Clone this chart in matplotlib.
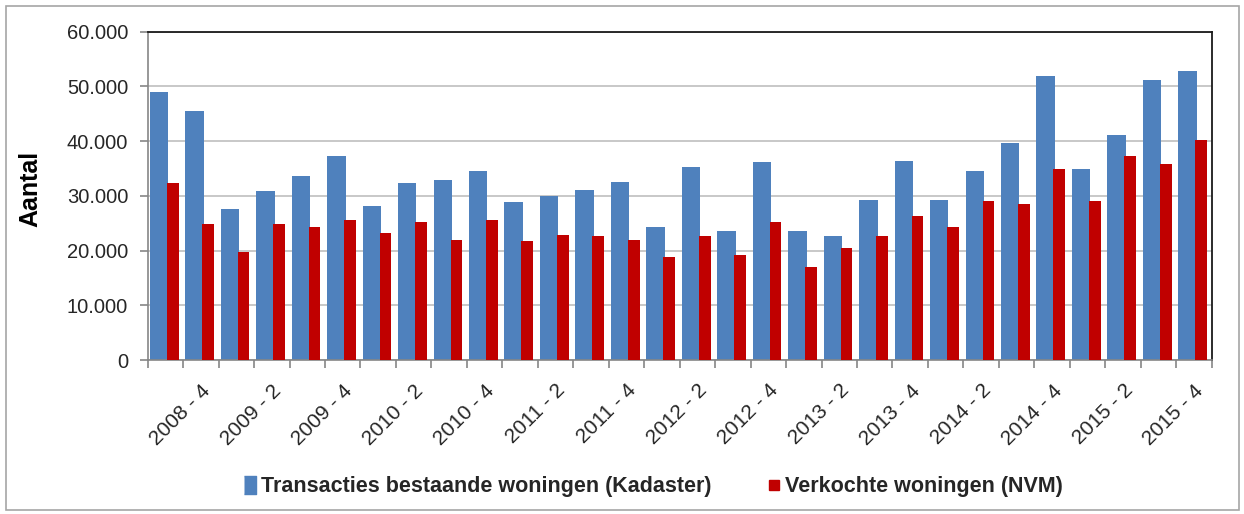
import numpy as np
import matplotlib
matplotlib.use("Agg")
import matplotlib.pyplot as plt
from matplotlib.lines import Line2D
from matplotlib.patches import Rectangle

plt.rcParams['font.family'] = ['Liberation Sans', 'DejaVu Sans']

quarters = [f"{y} - {q}" for y in range(2008, 2016) for q in range(1, 5)][2:]

kadaster = [49000, 45500, 27600, 30800, 33700, 37300, 28200, 32300, 32900, 34600,
            28800, 29900, 31100, 32600, 24300, 35200, 23500, 36100, 23500, 22600,
            29300, 36400, 29300, 34600, 39600, 51900, 34900, 41100, 51100, 52800]
nvm = [32300, 24900, 19700, 24900, 24300, 25500, 23200, 25200, 22000, 25500,
       21700, 22900, 22600, 22000, 18800, 22600, 19100, 25200, 17000, 20500,
       22600, 26400, 24300, 29000, 28500, 34900, 29000, 37200, 35800, 40200]

labels = ["Transacties bestaande woningen (Kadaster)", "Verkochte woningen (NVM)"]
blue = "#4F81BD"
red = "#C00000"

fig = plt.figure(figsize=(12.44, 5.14), dpi=100)
ax = fig.add_axes([0.1187, 0.2996, 0.974 - 0.1187, 0.9383 - 0.2996])

x = np.arange(len(quarters))
ax.bar(x - 0.18, kadaster, width=0.52, color=blue, zorder=2)
ax.bar(x + 0.205, nvm, width=0.33, color=red, zorder=3)

ax.set_xlim(-0.5, len(quarters) - 0.5)
ax.set_ylim(0, 60000)
ax.set_yticks(np.arange(0, 60001, 10000))
ax.set_yticklabels(["0"] + [f"{v // 1000}.000" for v in range(10000, 60001, 10000)],
                   fontsize=14.5, color="#262626")
ax.yaxis.grid(True, color="#BFBFBF", linewidth=1.2, zorder=0)
ax.set_axisbelow(True)

ax.set_xticks(x[1::2])
ax.set_xticklabels(quarters[1::2], rotation=45, ha="right", rotation_mode="anchor",
                   fontsize=15, color="#262626")
ax.tick_params(axis="x", which="major", length=0, pad=15)
ax.set_xticks(np.arange(-0.5, len(quarters), 1.0), minor=True)
ax.tick_params(axis="x", which="minor", length=6, color="#868686", width=1.2)
ax.tick_params(axis="y", length=6, color="#868686", width=1.2, pad=8)

for s in ["left", "bottom"]:
    ax.spines[s].set_color("#868686")
    ax.spines[s].set_linewidth(1.2)
for s in ["top", "right"]:
    ax.spines[s].set_color("#1a1a1a")
    ax.spines[s].set_linewidth(1.3)

ax.set_ylabel("Aantal", fontsize=18, fontweight="bold")
ax.yaxis.set_label_coords(-0.0987, 0.52)

# outer frame
fig.patches.append(Rectangle((6 / 1244, 4 / 514), 1233 / 1244, 504 / 514,
                             transform=fig.transFigure, fill=False,
                             edgecolor="#A6A6A6", linewidth=1.2))

blue_marker = [(-0.32, -0.5), (0.32, -0.5), (0.32, 0.5), (-0.32, 0.5)]
handles = [Line2D([], [], linestyle="none", marker=blue_marker, markersize=13,
                  color=blue),
           Line2D([], [], linestyle="none", marker="s", markersize=6.5, color=red)]
fig.legend(handles, labels, loc="center", bbox_to_anchor=(0.525, 0.053), ncol=2,
           frameon=False, handlelength=0.6, handletextpad=0.2, columnspacing=2.6,
           prop={"size": 15.5, "weight": "bold"}, labelcolor="#262626")

fig.savefig("out.png", dpi=100)
